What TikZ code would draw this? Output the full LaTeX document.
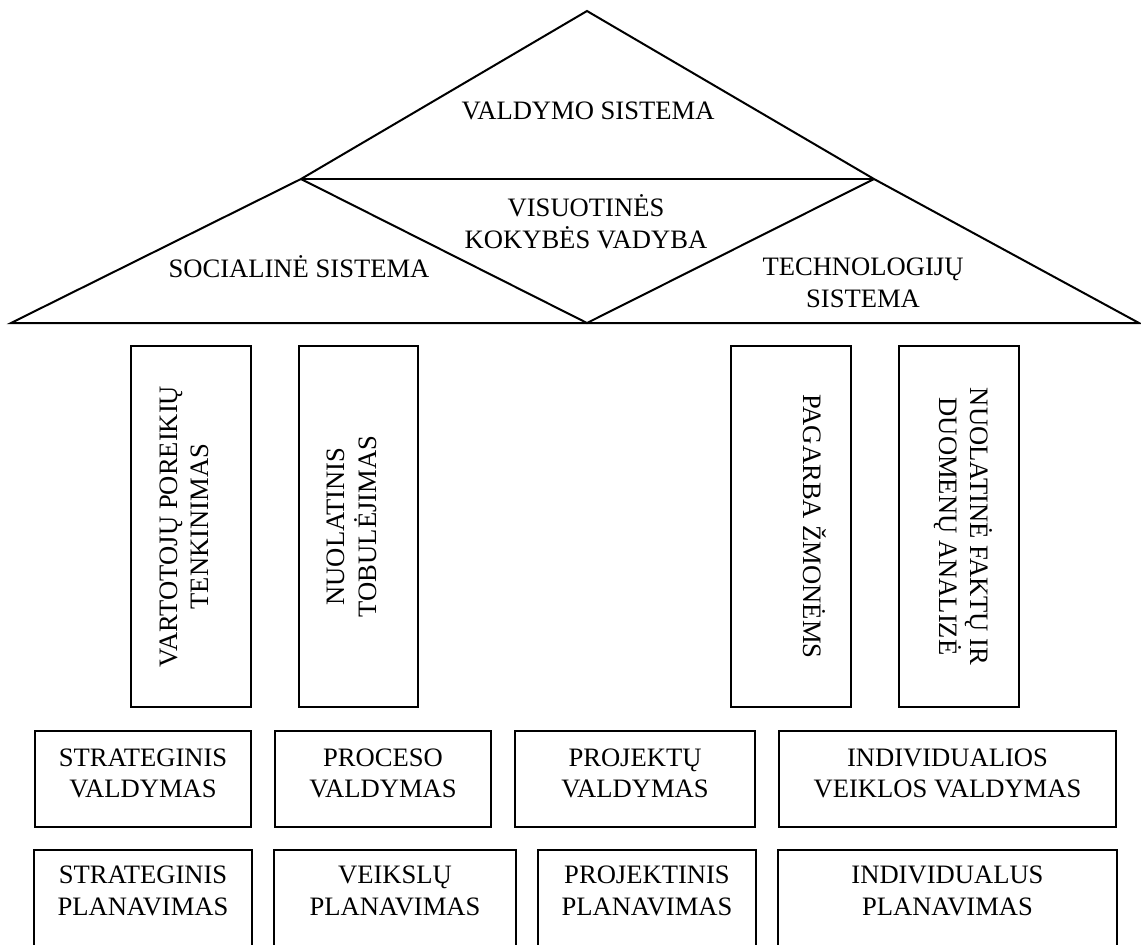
\documentclass[tikz,border=0pt]{standalone}
\usepackage{fontspec}
\setmainfont{Liberation Serif}
\usetikzlibrary{calc}
\begin{document}
\begin{tikzpicture}[x=0.5pt,y=-0.5pt,line width=1pt,
  txt/.style={font=\fontsize{13.3}{15.8}\selectfont},
  lbl/.style={txt,align=center,inner sep=0pt},
  boxnode/.style={txt,draw,line width=1.2pt,align=center,inner sep=0pt,minimum height=48pt,text depth=6pt},
  plainbox/.style={txt,align=center,inner sep=0pt,minimum height=40pt},
  pillar/.style={txt,draw,line width=1.2pt,align=center,inner sep=0pt,minimum width=180.5pt}]
\useasboundingbox (0,0) rectangle (1141,944);
\clip (0,0) rectangle (1141,944);
% roof
\coordinate (A) at (587,11);
\coordinate (L) at (11,323);
\coordinate (R) at (1139,323);
\coordinate (J1) at (301,179);
\coordinate (J2) at (874,179);
\coordinate (B) at (587,323);
\draw (L) -- (J1) -- (A) -- (J2) -- (R) -- cycle;
\draw (J1) -- (J2);
\draw (J1) -- (B) -- (J2);
\node[lbl] (vs) at (588,111) {VALDYMO SISTEMA};
\node[lbl] (vkv) at (586,222) {VISUOTINĖS\\KOKYBĖS VADYBA};
\node[lbl] (ss) at (299,267) {SOCIALINĖ SISTEMA};
\node[lbl] (ts) at (863,283) {TECHNOLOGIJŲ\\SISTEMA};
% pillars
\node[pillar,rotate=90,minimum height=60pt,text depth=7pt] (p1) at (191,526.5) {VARTOTOJŲ POREIKIŲ\\TENKINIMAS};
\node[pillar,rotate=90,minimum height=59.5pt,text depth=7pt] (p2) at (358.5,526.5) {NUOLATINIS\\TOBULĖJIMAS};
\node[pillar,rotate=-90,minimum height=60pt,text depth=8pt] (p3) at (791,526.5) {PAGARBA ŽMONĖMS\\\mbox{}};
\node[pillar,rotate=-90,minimum height=60pt,text depth=7pt] (p4) at (959,526.5) {NUOLATINĖ FAKTŲ IR\\DUOMENŲ ANALIZĖ};
% row 1
\node[boxnode,minimum width=108pt] (v1) at (143,779) {STRATEGINIS\\VALDYMAS};
\node[boxnode,minimum width=108pt] (v2) at (383,779) {PROCESO\\VALDYMAS};
\node[boxnode,minimum width=120pt] (v3) at (635,779) {PROJEKTŲ\\VALDYMAS};
\node[boxnode,minimum width=168.5pt] (v4) at (947.5,779) {INDIVIDUALIOS\\VEIKLOS VALDYMAS};
% row 2
\node[plainbox,minimum width=108pt] (q1) at (143,891) {STRATEGINIS\\PLANAVIMAS};
\node[plainbox,minimum width=120pt] (q2) at (395,891) {VEIKSLŲ\\PLANAVIMAS};
\node[plainbox,minimum width=108pt] (q3) at (647,891) {PROJEKTINIS\\PLANAVIMAS};
\node[plainbox,minimum width=168.5pt] (q4) at (947.5,891) {INDIVIDUALUS\\PLANAVIMAS};
\foreach \n in {q1,q2,q3,q4}{
  \draw[line width=1.2pt] (\n.north west) rectangle ($(\n.south east)+(0,60)$);
}
\end{tikzpicture}
\end{document}
